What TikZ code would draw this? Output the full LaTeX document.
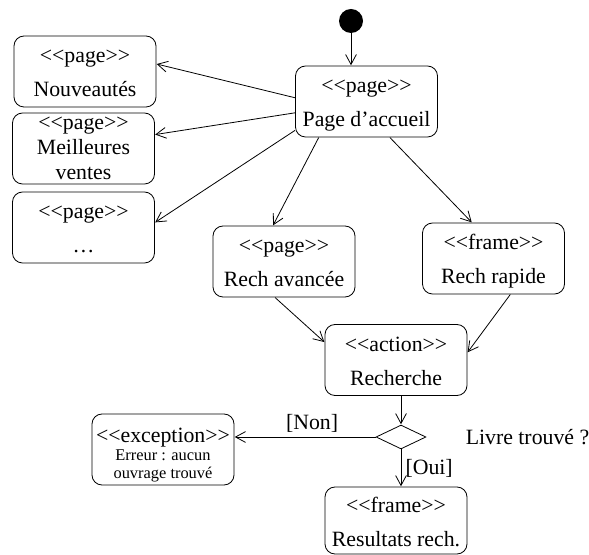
\documentclass[tikz,border=0pt]{standalone}
\usepackage{fontspec}
\setmainfont{Liberation Serif}
\usetikzlibrary{arrows.meta}
\usetikzlibrary{shapes.geometric}
\newcommand\stereo[1]{<\kern0pt<#1>\kern0pt>}
\newcommand\screentext[2]{\rule{0pt}{11pt}\stereo{#1}\\[4.5pt]#2\rule[-2.5pt]{0pt}{0pt}}

\begin{document}
\begin{tikzpicture}
\tikzset{x=0.5pt, y=-0.5pt}
\tikzset{font=\fontsize{10.9}{12.5}\selectfont}
\tikzset{line width=0.5pt}
\tikzset{>={Straight Barb[length=5pt,width=5.4pt]}}
\tikzset{screen/.style={draw, rounded corners=5pt, minimum width=71pt, minimum height=35.5pt, align=center, inner sep=1pt}}
\tikzset{choice/.style={draw, diamond, minimum width=25pt, minimum height=12pt, inner sep=0pt}}
\tikzset{guard/.style={inner sep=2pt}}
\useasboundingbox (0,0) rectangle (589,555);
\node[circle, fill, minimum size=12pt, inner sep=0pt] (start) at (351,21) {};
\node[screen] (home) at (366.5,101.5) {\screentext{page}{Page d’accueil}};
\node[screen] (news) at (85,71.5) {\screentext{page}{Nouveautés}};
\node[screen] (best) at (83.5,148.5) {\stereo{page}\\Meilleures\\ventes};
\node[screen] (more) at (83.5,227.5) {\screentext{page}{…}};
\node[screen] (advanced) at (284,261.5) {\screentext{page}{Rech avancée}};
\node[screen] (quick) at (493.5,258.5) {\screentext{frame}{Rech rapide}};
\node[screen] (search) at (396,360) {\screentext{action}{Recherche}};
\node[choice] (found) at (401,437) {};
\node (question) at (527.5,437) {Livre trouvé ?};
\node[screen, font=\fontsize{8.2}{9}\selectfont] (error) at (163,449.5) {{\fontsize{10.9}{9}\selectfont\rule{0pt}{12.3pt}\stereo{exception}}\\Erreur : aucun\\ouvrage trouvé};
\node[screen, minimum height=33.5pt] (results) at (396,520.5) {\screentext{frame}{Resultats rech.}};
\draw[->] (start) -- (start |- home.north);
\draw[->] (home.177) -- (news.6);
\draw[->] (home.189) -- (best.11);
\draw[->] (home.202) -- (more.4);
\draw[->] (home.217) -- (advanced.107);
\draw[->] (home.303) -- (quick.121);
\draw[->] (advanced.256) -- (search.166);
\draw[->] (quick.295) -- (search.6);
\draw[->] (search.south -| found.north) -- (found.north);
\draw[->] (found.west) -- node[above, guard, pos=0.45] {[Non]} (found.west -| error.east);
\draw[->] (found.south) -- node[right, guard] {[Oui]} (found.south |- results.north);
\end{tikzpicture}
\end{document}
